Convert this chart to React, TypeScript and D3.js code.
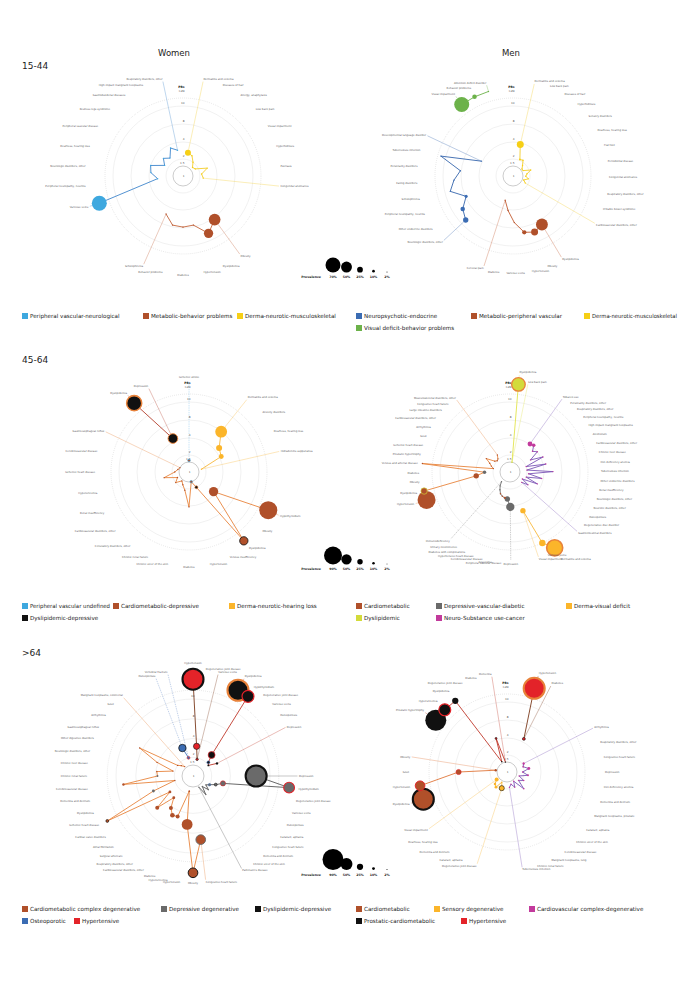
import * as d3 from 'd3'

type Item = [string, number, number, string?, string?] // label, PR, prevalence %, ring colour key, fill override

const FONT = "'DejaVu Sans', Verdana, sans-serif"

const C: Record<string, string> = {
  lightBlue: '#3ea8df',
  brown: '#b0502a',
  orange: '#e8823a',
  yellow: '#f6cf16',
  amber: '#fbb52a',
  blue: '#3b6cb3',
  green: '#6cb24a',
  gray: '#6a6a6a',
  black: '#111111',
  lime: '#d3db3a',
  magenta: '#c23a9c',
  red: '#e32329',
}

// radial PR axis
const prDomain = [1, 1.5, 2, 4, 8, 10, 20, 30]
const prTicks = [1.5, 2, 4, 8, 10]
const prevLegendTop = [70, 50, 25, 10, 2]
const prevLegendLow = [90, 50, 25, 10, 2]

// ---------- 15-44 women ----------
const w1544Yellow: Item[] = [
  ['Dermatitis and eczema', 2.8, 26],
  ['Diseases of hair', 2.6, 2],
  ['Allergy, anaphylaxis', 2.0, 2],
  ['Low back pain', 1.7, 2],
  ['Visual impairment', 1.8, 2],
  ['Hyperhidrosis', 3.0, 2],
  ['Psoriasis', 2.2, 2],
  ['Congenital anomalies', 2.4, 2],
]
const w1544Brown: Item[] = [
  ['Obesity', 8.2, 54],
  ['Dyslipidemia', 9.2, 42],
  ['Hypertension', 7.6, 4],
  ['Diabetes', 7.8, 4],
  ['Behavior problems', 7.6, 3],
  ['Schizophrenia', 5.7, 2],
]
const w1544Blue: Item[] = [
  ['Varicose veins', 30, 70],
  ['Peripheral neuropathy, neuritis', 3.0, 4],
  ['Neurologic disorders, other', 3.8, 3],
  ['Deafness, hearing loss', 4.0, 2],
  ['Peripheral vascular disease', 2.5, 2],
  ['Restless legs syndrome', 3.1, 2],
  ['Gastroduodenal diseases', 2.6, 2],
  ['High impact malignant neoplasms', 3.6, 2],
  ['Respiratory disorders, other', 3.1, 2],
]

// ---------- 15-44 men ----------
const m1544Yellow: Item[] = [
  ['Dermatitis and eczema', 3.8, 31],
  ['Low back pain', 2.1, 6],
  ['Diseases of hair', 2.2, 3],
  ['Hyperhidrosis', 1.8, 2],
  ['Sensory disorders', 1.6, 2],
  ['Deafness, hearing loss', 1.6, 2],
  ['Flat foot', 2.2, 2],
  ['Periodontal disease', 1.8, 2],
  ['Congenital anomalies', 1.7, 2],
  ['Respiratory disorders, other', 1.9, 2],
  ['Irritable bowel syndrome', 1.6, 2],
  ['Cardiovascular disorders, other', 1.8, 2],
]
const m1544Brown: Item[] = [
  ['Dyslipidemia', 8.5, 55],
  ['Obesity', 8.9, 31],
  ['Hypertension', 8.6, 18],
  ['Varicose veins', 6.8, 3],
  ['Diabetes', 4.2, 2],
  ['Cervical pain', 3.0, 2],
]
const m1544Blue: Item[] = [
  ['Neurologic disorders, other', 9.4, 23],
  ['Other endocrine disorders', 8.9, 19],
  ['Peripheral neuropathy, neuritis', 7.8, 12],
  ['Schizophrenia', 9.4, 3],
  ['Eating disorders', 8.8, 3],
  ['Personality disorders', 8.1, 3],
  ['Tuberculosis infection', 16, 3],
  ['Developmental language disorder', 4.2, 3],
]
const m1544Green: Item[] = [
  ['Visual impairment', 30, 70],
  ['Behavior problems', 30, 19],
  ['Attention deficit disorder', 30, 2],
]

// ---------- 45-64 women ----------
const w4564Yellow: Item[] = [
  ['Dermatitis and eczema', 7.9, 58],
  ['Anxiety disorders', 5.0, 28],
  ['Deafness, hearing loss', 4.4, 22],
  ['Hidradenitis suppurativa', 1.7, 2],
]
const w4564Brown: Item[] = [
  ['Hypothyroidism', 30, 90],
  ['Obesity', 3.7, 45],
  ['Dyslipidemia', 30, 40, 'black'],
  ['Venous insufficiency', 2.0, 12, 'orange', 'black'],
  ['Hypertension', 1.5, 10, 'lightBlue'],
  ['Diabetes', 4.2, 3],
  ['Chronic ulcer of the skin', 2.2, 2],
  ['Chronic renal failure', 1.8, 2],
  ['Circulatory disorders, other', 1.6, 2],
  ['Cardiovascular disorders, other', 2.0, 2],
  ['Renal insufficiency', 1.7, 2],
  ['Hyperuricemia', 3.0, 2],
  ['Ischemic heart disease', 1.8, 2],
  ['Cerebrovascular disease', 1.6, 2],
  ['Gastroesophageal reflux', 1.5, 2],
]
const w4564Black: Item[] = [
  ['Dyslipidemia', 30, 75, 'orange'],
  ['Depression', 4.7, 47, 'orange'],
]
const w4564Blue: Item[] = [['Ischemic stroke', 1.6, 10, 'lightBlue', 'brown']]

// ---------- 45-64 men ----------
const m4564Lime: Item[] = [
  ['Dyslipidemia', 30, 67, 'orange'],
  ['Low back pain', 1.5, 2],
]
const m4564Magenta: Item[] = [
  ['Tobacco use', 4.1, 22],
  ['Personality disorders, other', 4.4, 15],
  ['Respiratory disorders, other', 3.6, 5],
  ['Peripheral neuropathy, neuritis', 4.0, 3],
  ['High impact malignant neoplasms', 2.8, 2],
  ['Alcoholism', 4.5, 2],
  ['Cardiovascular disorders, other', 2.0, 2],
  ['Chronic liver disease', 4.6, 2],
  ['Iron deficiency anemia', 2.0, 2],
  ['Tuberculosis infection', 6.0, 2],
  ['Other endocrine disorders', 2.2, 2],
  ['Renal insufficiency', 3.8, 2],
  ['Neurologic disorders, other', 2.0, 2],
  ['Neurotic disorders, other', 3.5, 2],
  ['Osteoporosis', 1.8, 2],
  ['Degenerative disc disorder', 2.6, 2],
  ['Gastrointestinal disorders', 1.9, 2],
]
const m4564Amber: Item[] = [
  ['Dermatitis and eczema', 30, 80, 'orange'],
  ['Varicose veins', 20, 30],
  ['Visual impairment', 5.5, 25],
]
const m4564Gray: Item[] = [
  ['Depression', 4.2, 40],
  ['Peripheral vascular disease', 3.2, 25],
  ['Glaucoma', 3.1, 8, undefined, 'brown'],
  ['Cerebrovascular disease', 3.0, 5, undefined, 'brown'],
  ['Hypertensive heart disease', 2.8, 5, undefined, 'brown'],
  ['Diabetes with complications', 2.4, 3],
  ['Urinary incontinence', 2.0, 2],
  ['Immunodeficiency', 1.7, 2],
]
const m4564Brown: Item[] = [
  ['Hypertension', 30, 90],
  ['Dyslipidemia', 30, 30, 'lime'],
  ['Obesity', 4.0, 25],
  ['Diabetes', 3.0, 15, undefined, 'gray'],
  ['Venous and arterial disease', 30, 3],
  ['Prostatic hypertrophy', 2.0, 2],
  ['Ischemic heart disease', 2.3, 2],
  ['Gout', 2.6, 2],
  ['Arrhythmia', 3.2, 2],
  ['Cardiovascular disorders, other', 2.2, 2],
  ['Large intestine disorders', 2.0, 2],
  ['Congestive heart failure', 2.1, 2],
  ['Musculoskeletal disorders, other', 2.5, 2],
]

// ---------- >64 women ----------
const w64Red: Item[] = [
  ['Hypertension', 30, 90, 'black'],
  ['Degenerative joint disease', 3.2, 25, 'black'],
  ['Varicose veins', 1.9, 8, 'black'],
]
const w64Black: Item[] = [
  ['Dyslipidemia', 30, 90, 'orange'],
  ['Hypothyroidism', 30, 50, 'red'],
  ['Degenerative joint disease', 3.0, 28, 'red'],
  ['Varicose veins', 2.2, 10, 'blue'],
  ['Osteoporosis', 2.0, 6],
  ['Depression', 2.9, 8],
]
const w64Gray: Item[] = [
  ['Depression', 8.6, 90, 'black'],
  ['Hypothyroidism', 30, 45, 'red'],
  ['Degenerative joint disease', 3.3, 20, 'red'],
  ['Varicose veins', 2.6, 10, 'black'],
  ['Osteoporosis', 2.0, 8, 'blue'],
  ['Cataract, aphakia', 1.8, 3],
  ['Congestive heart failure', 2.2, 3],
  ['Dementia and delirium', 1.7, 3],
  ['Chronic ulcer of the skin', 2.4, 3],
  ["Parkinson's disease", 1.6, 3],
]
const w64Brown: Item[] = [
  ['Congestive heart failure', 8.7, 40, 'gray'],
  ['Obesity', 30, 40, 'black'],
  ['Hypertension', 6.3, 45],
  ['Hyperuricemia', 1.8, 5],
  ['Diabetes', 5.2, 15],
  ['Cardiovascular disorders, other', 5.4, 18],
  ['Respiratory disorders, other', 4.3, 15],
  ['Surgical aftercare', 3.1, 10],
  ['Atrial fibrillation', 6.1, 15],
  ['Cardiac valve disorders', 3.0, 10],
  ['Ischemic heart disease', 30, 10, 'black'],
  ['Dyslipidemia', 5.0, 10, undefined, 'gray'],
  ['Dementia and delirium', 2.0, 3],
  ['Cerebrovascular disease', 9.3, 8],
  ['Chronic renal failure', 3.8, 6, undefined, 'gray'],
  ['Chronic liver disease', 3.9, 4],
  ['Neurologic disorders, other', 2.2, 3],
  ['Other digestive disorders', 4.2, 3],
  ['Gastroesophageal reflux', 8.3, 3],
  ['Arrhythmia', 2.0, 2],
  ['Gout', 1.8, 2],
  ['Malignant neoplasms, colorectal', 1.6, 2],
]
const w64Blue: Item[] = [
  ['Osteoporosis', 3.2, 30, 'black'],
  ['Vertebral fracture', 2.0, 10, 'red'],
]

// ---------- >64 men ----------
const m64Red: Item[] = [
  ['Hypertension', 30, 90, 'orange'],
  ['Diabetes', 4.7, 10, 'black'],
]
const m64Magenta: Item[] = [
  ['Arrhythmia', 2.2, 8],
  ['Respiratory disorders, other', 2.0, 5],
  ['Congestive heart failure', 2.6, 10],
  ['Depression', 1.9, 3],
  ['Iron deficiency anemia', 2.5, 6],
  ['Dementia and delirium', 1.7, 3],
  ['Malignant neoplasms, prostate', 2.2, 4],
  ['Cataract, aphakia', 1.8, 3],
  ['Chronic ulcer of the skin', 2.8, 4],
  ['Cerebrovascular disease', 1.6, 3],
  ['Malignant neoplasms, lung', 2.0, 3],
  ['Chronic renal failure', 1.7, 3],
  ['Tuberculosis infection', 1.9, 3],
]
const m64Amber: Item[] = [
  ['Degenerative joint disease', 2.0, 20, 'black'],
  ['Cataract, aphakia', 1.6, 3],
  ['Dementia and delirium', 2.2, 10],
  ['Deafness, hearing loss', 2.0, 8],
  ['Visual impairment', 1.7, 15],
]
const m64Brown: Item[] = [
  ['Dyslipidemia', 30, 90, 'black'],
  ['Hypertension', 30, 40, 'red'],
  ['Gout', 7.2, 20, 'red'],
  ['Obesity', 1.6, 8],
]
const m64Black: Item[] = [
  ['Prostatic hypertrophy', 30, 90],
  ['Hyperuricemia', 30, 50, 'red'],
  ['Dyslipidemia', 30, 25],
  ['Degenerative joint disease', 1.6, 4],
  ['Diabetes', 4.3, 6, 'black', 'red'],
  ['Dementia', 1.5, 3],
]

// legend entries
const legendW1544 = [['lightBlue', 'Peripheral vascular-neurological'], ['brown', 'Metabolic-behavior problems'], ['yellow', 'Derma-neurotic-musculoskeletal']]
const legendM1544a = [['blue', 'Neuropsychotic-endocrine'], ['brown', 'Metabolic-peripheral vascular'], ['yellow', 'Derma-neurotic-musculoskeletal']]
const legendM1544b = [['green', 'Visual deficit-behavior problems']]
const legendW4564a = [['lightBlue', 'Peripheral vascular undefined'], ['brown', 'Cardiometabolic-depressive'], ['amber', 'Derma-neurotic-hearing loss']]
const legendW4564b = [['black', 'Dyslipidemic-depressive']]
const legendM4564a = [['brown', 'Cardiometabolic'], ['gray', 'Depressive-vascular-diabetic'], ['amber', 'Derma-visual deficit']]
const legendM4564b = [['lime', 'Dyslipidemic'], ['magenta', 'Neuro-Substance use-cancer']]
const legendW64a = [['brown', 'Cardiometabolic complex degenerative'], ['gray', 'Depressive degenerative'], ['black', 'Dyslipidemic-depressive']]
const legendW64b = [['blue', 'Osteoporotic'], ['red', 'Hypertensive']]
const legendM64a = [['brown', 'Cardiometabolic'], ['amber', 'Sensory degenerative'], ['magenta', 'Cardiovascular complex-degenerative']]
const legendM64b = [['black', 'Prostatic-cardiometabolic'], ['red', 'Hypertensive']]

interface Cluster {
  fill: string
  line: string
  start: number
  items: Item[]
  dashed?: boolean
}
interface PanelCfg {
  cx: number
  cy: number
  scale: number
  labelR: number
  slots: number
  offset: number
  sizeMax: number
  sizeTop: number
  clusters: Cluster[]
}

const panels: PanelCfg[] = [
  {
    cx: 183, cy: 176, scale: 1, labelR: 98, slots: 30, offset: 0, sizeMax: 7.5, sizeTop: 70,
    clusters: [
      { fill: 'yellow', line: '#f3cd2c', start: 1, items: w1544Yellow },
      { fill: 'brown', line: '#c4643b', start: 12, items: w1544Brown },
      { fill: 'lightBlue', line: '#3f86cc', start: 21, items: w1544Blue },
    ],
  },
  {
    cx: 513, cy: 176, scale: 1, labelR: 96, slots: 37, offset: 13, sizeMax: 7.5, sizeTop: 70,
    clusters: [
      { fill: 'yellow', line: '#f3cd2c', start: 0, items: m1544Yellow },
      { fill: 'brown', line: '#c25a30', start: 14, items: m1544Brown },
      { fill: 'blue', line: '#3565ad', start: 22, items: m1544Blue },
      { fill: 'green', line: '#6cb24a', start: 32, items: m1544Green },
    ],
  },
  {
    cx: 189, cy: 472, scale: 1, labelR: 94, slots: 28, offset: 38.6, sizeMax: 9, sizeTop: 90,
    clusters: [
      { fill: 'amber', line: '#f8b83a', start: 0, items: w4564Yellow },
      { fill: 'brown', line: '#e8853d', start: 6, items: w4564Brown },
      { fill: 'black', line: '#b3402c', start: 22, items: w4564Black },
      { fill: 'lightBlue', line: '#5aaee3', start: 25, items: w4564Blue, dashed: true },
    ],
  },
  {
    cx: 510, cy: 472, scale: 1, labelR: 91, slots: 60, offset: 5.5, sizeMax: 9, sizeTop: 90,
    clusters: [
      { fill: 'lime', line: '#e2e44d', start: 0, items: m4564Lime },
      { fill: 'magenta', line: '#7c56b6', start: 5, items: m4564Magenta },
      { fill: 'amber', line: '#f8b83a', start: 24, items: m4564Amber },
      { fill: 'gray', line: '#6d6d6d', start: 29, items: m4564Gray, dashed: true },
      { fill: 'brown', line: '#e8853d', start: 41, items: m4564Brown },
    ],
  },
  {
    cx: 193, cy: 776, scale: 1.1, labelR: 106, slots: 52, offset: 0, sizeMax: 10.5, sizeTop: 90,
    clusters: [
      { fill: 'red', line: '#7a3a1c', start: 0, items: w64Red },
      { fill: 'black', line: '#c0392b', start: 4, items: w64Black },
      { fill: 'gray', line: '#585858', start: 13, items: w64Gray },
      { fill: 'brown', line: '#e8853d', start: 25, items: w64Brown },
      { fill: 'blue', line: '#4a78c0', start: 49, items: w64Blue, dashed: true },
    ],
  },
  {
    cx: 507, cy: 772, scale: 1, labelR: 98, slots: 40, offset: 0, sizeMax: 10.5, sizeTop: 90,
    clusters: [
      { fill: 'red', line: '#7a3a1c', start: 2, items: m64Red },
      { fill: 'magenta', line: '#7c56b6', start: 7, items: m64Magenta },
      { fill: 'amber', line: '#f8b83a', start: 22, items: m64Amber },
      { fill: 'brown', line: '#e0763a', start: 28, items: m64Brown },
      { fill: 'black', line: '#c0392b', start: 34, items: m64Black },
    ],
  },
]

let measureCtx: CanvasRenderingContext2D | null = null
function textWidth(t: string, size: number) {
  if (!measureCtx) measureCtx = document.createElement('canvas').getContext('2d')
  if (!measureCtx) return t.length * size * 0.56
  measureCtx.font = `${size}px "DejaVu Sans"`
  return measureCtx.measureText(t).width
}

interface Pt {
  label: string
  a: number
  r: number
  s: number
  lr: number
  ring?: string
  fill: string
}

function Panel({ cfg }: { cfg: PanelCfg }) {
  const range = [0, 10, 17, 34, 52, 70, 78, 88].map(v => v * cfg.scale)
  const rScale = d3.scaleLinear().domain(prDomain).range(range).clamp(true)
  const size = d3.scaleLinear().domain([0, cfg.sizeTop]).range([0.3, cfg.sizeMax])
  const angle = d3
    .scaleLinear()
    .domain([0, cfg.slots])
    .range([(cfg.offset * Math.PI) / 180, ((cfg.offset + 360) * Math.PI) / 180])

  const clusters = cfg.clusters.map(cl => ({
    ...cl,
    pts: cl.items.map((it, i): Pt => {
      const [label, pr, prev, ring, fill] = it
      const r = rScale(pr)
      const s = Math.max(0.7, size(prev))
      return {
        label,
        a: angle(cl.start + i),
        r,
        s,
        lr: Math.max(cfg.labelR, r + s + 4),
        ring,
        fill: fill ?? cl.fill,
      }
    }),
  }))

  const radial = d3
    .lineRadial<{ a: number; r: number }>()
    .angle(d => d.a)
    .radius(d => d.r)

  const allPts = clusters.flatMap(c => c.pts).sort((a, b) => b.s - a.s)
  const outer = rScale(20)

  return (
    <g transform={`translate(${cfg.cx},${cfg.cy})`}>
      {prTicks.map(v => (
        <circle
          key={`ring-${v}`}
          r={rScale(v)}
          fill="none"
          stroke={v === 1.5 ? '#a9a9a9' : '#e3e3e3'}
          strokeWidth={v === 1.5 ? 0.6 : 0.5}
        />
      ))}
      <circle r={outer} fill="none" stroke="#b5b5b5" strokeWidth={0.5} strokeDasharray="0.6 1.4" />

      {prTicks.map(v => (
        <text key={`tl-${v}`} x={1.5} y={-(rScale(v) + 2)} textAnchor="end" fontSize={2.8} fill="#555">
          {v}
        </text>
      ))}
      <text x={1.5} y={1} textAnchor="end" fontSize={2.8} fill="#555">1</text>
      <text x={1.5} y={-(outer + 6)} textAnchor="end" fontSize={2.8} fill="#333">&gt;20</text>
      <text x={1.5} y={-(outer + 10)} textAnchor="end" fontSize={3} fontWeight="bold" fill="#111">PRs</text>

      {clusters.map((cl, ci) => {
        const ends = cl.pts.length > 1 ? [cl.pts[0], cl.pts[cl.pts.length - 1]] : cl.pts
        return ends.map((p, k) => {
          const mid = Math.abs(Math.sin(p.a)) < 0.05
          const path = radial([
            { a: p.a, r: p.r + p.s },
            { a: p.a, r: p.lr - (mid ? 3 : 1.5) },
          ])
          return (
            <path
              key={`ld-${ci}-${k}`}
              d={path ?? ''}
              fill="none"
              stroke={cl.line}
              strokeOpacity={0.75}
              strokeWidth={0.45}
              strokeDasharray={cl.dashed ? '1.4 0.9' : undefined}
            />
          )
        })
      })}

      {clusters.map((cl, ci) =>
        cl.pts.length > 1 ? (
          <path
            key={`ln-${ci}`}
            d={radial(cl.pts) ?? ''}
            fill="none"
            stroke={cl.line}
            strokeWidth={0.9}
            strokeLinejoin="round"
          />
        ) : null,
      )}

      {allPts.map((p, i) => {
        const x = p.r * Math.sin(p.a)
        const y = -p.r * Math.cos(p.a)
        return (
          <circle
            key={`pt-${i}`}
            cx={x}
            cy={y}
            r={p.s}
            fill={C[p.fill]}
            stroke={p.ring ? C[p.ring] : 'none'}
            strokeWidth={p.ring ? Math.max(0.6, p.s * 0.2) : 0}
          />
        )
      })}

      {clusters.flatMap((cl, ci) =>
        cl.pts.map((p, i) => {
          const sn = Math.sin(p.a)
          const cs = Math.cos(p.a)
          const anchor = sn > 0.05 ? 'start' : sn < -0.05 ? 'end' : 'middle'
          const x = p.lr * sn
          const y = -p.lr * cs + (cs < -0.5 ? 1.6 : cs > 0.5 ? -0.3 : 0.9)
          return (
            <text key={`lb-${ci}-${i}`} x={x} y={y} textAnchor={anchor} fontSize={2.6} fill="#5a5a5a">
              {p.label}
            </text>
          )
        }),
      )}
    </g>
  )
}

const LEGEND_FONT = 5.6

function Legend({ xs, y, items }: { xs: number[]; y: number; items: string[][] }) {
  return (
    <g>
      {items.map(([key, label], i) => {
        const limit = (i + 1 < xs.length ? xs[i + 1] : 680) - xs[i] - 8 - 3
        const natural = textWidth(label, LEGEND_FONT)
        const squeeze = natural > limit
        return (
          <g key={label}>
            <rect x={xs[i]} y={y - 3} width={6} height={6} fill={C[key]} />
            <text
              x={xs[i] + 8}
              y={y + 2}
              fontSize={LEGEND_FONT}
              fill="#222"
              textLength={squeeze ? limit : undefined}
              lengthAdjust={squeeze ? 'spacingAndGlyphs' : undefined}
            >
              {label}
            </text>
          </g>
        )
      })}
    </g>
  )
}

function PrevLegend({ yBase, values, sizeMax }: { yBase: number; values: number[]; sizeMax: number }) {
  const size = d3.scaleLinear().domain([0, values[0]]).range([0.3, sizeMax])
  const x = d3.scalePoint<string>().domain(values.map(String)).range([333, 387])
  return (
    <g>
      <text x={321} y={yBase + 5.5} textAnchor="end" fontSize={3.2} fontWeight="bold" fill="#222">
        Prevalence
      </text>
      {values.map(v => (
        <g key={v}>
          <circle cx={x(String(v))} cy={yBase - size(v)} r={size(v)} fill="#000" />
          <text x={x(String(v))} y={yBase + 5.5} textAnchor="middle" fontSize={3.2} fontWeight="bold" fill="#222">
            {v}%
          </text>
        </g>
      ))}
    </g>
  )
}

export default function App() {
  return (
    <>
      <style>{'body{margin:0;background:#fff}'}</style>
      <svg width={685} height={984} viewBox="0 0 685 984" style={{ display: 'block', fontFamily: FONT }}>
        <rect width={685} height={984} fill="#fff" />
        <text x={174} y={56} textAnchor="middle" fontSize={8.5} fill="#222">Women</text>
        <text x={511} y={56} textAnchor="middle" fontSize={8.5} fill="#222">Men</text>
        <text x={22} y={69} fontSize={9} fill="#222">15-44</text>
        <text x={22} y={363} fontSize={9} fill="#222">45-64</text>
        <text x={22} y={656} fontSize={9} fill="#222">&gt;64</text>

        {panels.map((p, i) => (
          <Panel key={i} cfg={p} />
        ))}

        <PrevLegend yBase={272.5} values={prevLegendTop} sizeMax={7.5} />
        <PrevLegend yBase={564.5} values={prevLegendLow} sizeMax={9} />
        <PrevLegend yBase={870} values={prevLegendLow} sizeMax={10.5} />

        <Legend xs={[22, 143, 237]} y={316} items={legendW1544} />
        <Legend xs={[356, 471, 584]} y={316} items={legendM1544a} />
        <Legend xs={[356]} y={328} items={legendM1544b} />
        <Legend xs={[22, 113, 229]} y={606} items={legendW4564a} />
        <Legend xs={[22]} y={618} items={legendW4564b} />
        <Legend xs={[356, 436, 566]} y={606} items={legendM4564a} />
        <Legend xs={[356, 436]} y={618} items={legendM4564b} />
        <Legend xs={[22, 161, 255]} y={909} items={legendW64a} />
        <Legend xs={[22, 74]} y={921} items={legendW64b} />
        <Legend xs={[356, 434, 529]} y={909} items={legendM64a} />
        <Legend xs={[356, 461]} y={921} items={legendM64b} />
      </svg>
    </>
  )
}
